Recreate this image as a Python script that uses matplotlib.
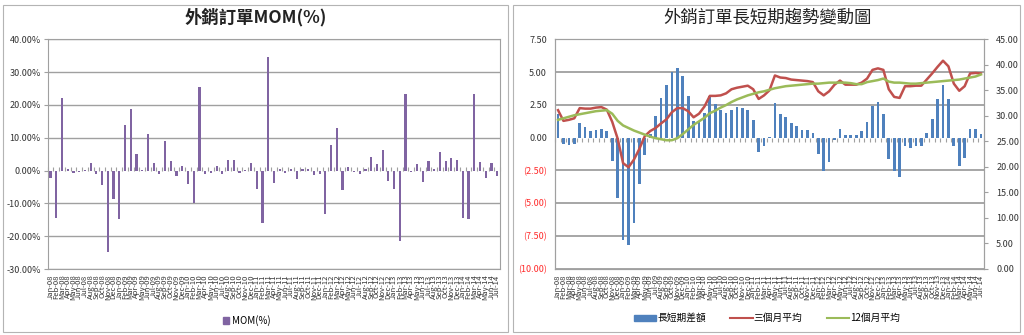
import numpy as np
import pandas as pd
import matplotlib
matplotlib.use("Agg")
import matplotlib.pyplot as plt
from matplotlib.patches import Rectangle, Patch
from matplotlib.lines import Line2D

plt.rcParams["font.family"] = ["Noto Sans CJK TC", "DejaVu Sans"]

# monthly categories Jan-08 .. Jul-14
months = pd.date_range("2008-01-01", periods=79, freq="MS").strftime("%b-%y").tolist()

# left chart: month-over-month change of export orders (%)
mom_pct = [-2.4, -14.5, 22.2, 0.6, -0.8, -0.4, 0.2, 2.4, -1.1, -4.4,
           -24.9, -8.7, -14.7, 13.9, 18.9, 5.0, 0.3, 11.0, 2.4, -1.1,
           9.1, 3.0, -1.6, 1.4, -4.1, -9.8, 25.5, -1.1, -0.6, 1.4,
           -1.1, 3.2, 3.2, -0.8, 0.1, 2.4, -5.7, -15.9, 34.7, -3.9,
           0.5, -0.6, 0.6, -2.5, 0.5, 0.6, -1.3, -0.9, -13.2, 7.9,
           13.0, -6.0, 1.0, -0.3, -1.1, 0.6, 4.2, 1.9, 6.3, -3.3,
           -5.7, -21.6, 23.4, -0.4, 1.9, -3.5, 2.9, 0.5, 5.7, 2.9,
           3.7, 3.2, -14.4, -14.7, 23.4, 2.5, -2.2, 2.2, -1.7]

# right chart: long/short gap (left axis), 3 / 12 month averages (right axis)
gap = [1.83, -0.45, -0.58, -0.45, 1.09, 0.81, 0.51, 0.56, 0.66, 0.48,
       -1.82, -4.62, -7.83, -8.2, -6.52, -3.54, -1.34, 0.3, 1.62, 3.02,
       4.04, 5.0, 5.3, 4.7, 3.15, 1.29, 1.25, 1.85, 3.17, 2.59,
       2.08, 1.85, 2.08, 2.33, 2.28, 2.08, 1.32, -1.06, -0.63, 0.05,
       2.64, 1.83, 1.57, 1.12, 0.89, 0.61, 0.56, 0.36, -1.26, -2.58,
       -1.89, -0.2, 0.66, 0.18, 0.2, 0.2, 0.48, 1.19, 2.41, 2.72,
       1.83, -1.64, -2.58, -3.03, -0.63, -0.76, -0.63, -0.63, 0.36, 1.42,
       2.97, 4.04, 2.97, -0.63, -2.2, -1.59, 0.66, 0.66, 0.3]

avg3 = [31.1, 29.0, 29.2, 29.5, 31.5, 31.4, 31.4, 31.6, 31.7, 31.2,
        28.8, 25.5, 20.7, 19.9, 21.4, 23.5, 26.0, 27.0, 27.6, 28.5,
        29.3, 30.7, 31.5, 31.5, 30.9, 29.7, 30.4, 31.8, 33.9, 33.9,
        34.0, 34.4, 35.2, 35.5, 35.7, 35.9, 35.2, 33.3, 34.0, 35.0,
        37.9, 37.5, 37.4, 37.1, 37.0, 36.9, 36.8, 36.6, 34.8, 34.0,
        34.8, 36.1, 36.9, 36.1, 36.1, 36.1, 36.5, 37.3, 39.0, 39.3,
        39.0, 35.2, 33.7, 33.5, 35.8, 35.8, 35.9, 35.9, 37.1, 38.3,
        39.6, 40.8, 39.7, 36.3, 34.9, 35.8, 38.3, 38.4, 38.3]

avg12 = [29.2, 29.5, 29.8, 30.1, 30.3, 30.5, 30.7, 30.9, 31.0, 31.1,
         30.4, 29.0, 28.1, 27.6, 27.1, 26.7, 26.3, 25.9, 25.6, 25.4,
         25.2, 25.2, 25.6, 26.4, 27.3, 28.2, 28.9, 29.6, 30.5, 31.0,
         31.6, 32.1, 32.7, 33.2, 33.6, 34.0, 34.3, 34.6, 34.8, 35.1,
         35.4, 35.6, 35.8, 35.9, 36.0, 36.1, 36.2, 36.3, 36.3, 36.4,
         36.5, 36.5, 36.5, 36.5, 36.4, 36.2, 36.2, 36.6, 36.8, 37.0,
         37.3, 36.7, 36.5, 36.5, 36.4, 36.3, 36.3, 36.4, 36.5, 36.6,
         36.7, 36.8, 36.9, 37.0, 37.1, 37.3, 37.5, 37.7, 38.1]

PURPLE = "#8064A2"
BLUE = "#4F81BD"
RED = "#C0504D"
GREEN = "#9BBB59"
GRID = "#a0a0a0"
TXT = "#333333"


def zero_ticks(ax, lo, hi, n):
    # small category tick marks sitting on the zero line (Excel style)
    sec = ax.secondary_xaxis((0 - lo) / (hi - lo))
    sec.set_xticks(np.arange(-0.5, n, 1.0))
    sec.tick_params(axis="x", direction="in", length=3, width=0.8, color=GRID,
                    labelbottom=False, labeltop=False)
    for s in sec.spines.values():
        s.set_visible(False)
    return sec


def style_spines(ax):
    for s in ax.spines.values():
        s.set_color(GRID)
        s.set_linewidth(0.8)


fig = plt.figure(figsize=(10.24, 3.35), dpi=100)

# chart frames
for x0, x1 in [(3, 508), (513, 1020)]:
    fig.patches.append(Rectangle((x0 / 1024, 3 / 335), (x1 - x0) / 1024, 327 / 335,
                                 transform=fig.transFigure, fill=False,
                                 ec="#b4b4b4", lw=0.8))

x = np.arange(len(months))

# ---- left chart ----
ax1 = fig.add_axes([0.0466, 0.197, 0.4417, 0.6857])
ax1.bar(x, mom_pct, width=0.38, color=PURPLE, zorder=3)
ax1.set_xlim(-0.5, len(months) - 0.5)
ax1.set_ylim(-30, 40)
yt1 = np.arange(-30, 41, 10)
for t in yt1:
    if t != 0:
        ax1.axhline(t, color=GRID, lw=1.0, zorder=1)
ax1.set_yticks(yt1)
ax1.set_yticklabels([f"{t:.2f}%" for t in yt1])
ax1.tick_params(axis="y", length=3, color=GRID, labelsize=6.5, labelcolor=TXT, pad=2)
ax1.set_xticks(x)
ax1.set_xticklabels(months, rotation=90, fontsize=5.5, color=TXT)
ax1.tick_params(axis="x", length=0, pad=4)
style_spines(ax1)
zero_ticks(ax1, -30, 40, len(months))

fig.text(256 / 1024, 1 - 17 / 335, "外銷訂單MOM(%)", ha="center", va="center",
         fontsize=12.5, fontweight="bold", color="#222222")
fig.legend(handles=[Patch(color=PURPLE)], labels=["MOM(%)"], loc="center",
           bbox_to_anchor=(0.241, 0.042), frameon=False, fontsize=7,
           handlelength=0.7, handleheight=0.7, handletextpad=0.3)

# ---- right chart ----
ax2 = fig.add_axes([0.5423, 0.1979, 0.4183, 0.6848])
ax2.bar(x, gap, width=0.5, color=BLUE, zorder=3)
ax2.set_xlim(-0.5, len(months) - 0.5)
ax2.set_ylim(-10, 7.5)
yt2 = np.arange(-10, 7.51, 2.5)
for t in yt2:
    if t != 0:
        ax2.axhline(t, color="#a6a6a6", lw=1.4, zorder=1)
ax2.set_yticks(yt2)
ax2.set_yticklabels([f"{t:.2f}" if t >= 0 else f"({-t:.2f})" for t in yt2])
for lab, t in zip(ax2.get_yticklabels(), yt2):
    lab.set_color("#ff2a2a" if t < 0 else TXT)
ax2.tick_params(axis="y", length=0, labelsize=6.5, pad=6)
ax2.set_xticks(x)
ax2.set_xticklabels(months, rotation=90, fontsize=5.5, color=TXT)
ax2.tick_params(axis="x", length=0, pad=4)
style_spines(ax2)
zero_ticks(ax2, -10, 7.5, len(months))

ax3 = ax2.twinx()
ax3.plot(x, avg3, color=RED, lw=1.8, zorder=4)
ax3.plot(x, avg12, color=GREEN, lw=1.8, zorder=4)
ax3.set_ylim(0, 45)
yt3 = np.arange(0, 46, 5)
ax3.set_yticks(yt3)
ax3.set_yticklabels([f"{t:.2f}" for t in yt3])
ax3.tick_params(axis="y", length=3, color=GRID, labelsize=6.5, labelcolor=TXT, pad=6)
style_spines(ax3)

fig.text(768 / 1024, 1 - 17 / 335, "外銷訂單長短期趨勢變動圖", ha="center", va="center",
         fontsize=12.5, color="#222222")
fig.legend(handles=[Patch(color=BLUE), Line2D([], [], color=RED, lw=1.5),
                    Line2D([], [], color=GREEN, lw=1.5)],
           labels=["長短期差額", "三個月平均", "12個月平均"], loc="center",
           bbox_to_anchor=(0.749, 0.05), frameon=False, fontsize=7, ncol=3,
           handlelength=2.3, handleheight=0.6, handletextpad=0.1, columnspacing=2.5)

fig.savefig("out.png", dpi=100)
